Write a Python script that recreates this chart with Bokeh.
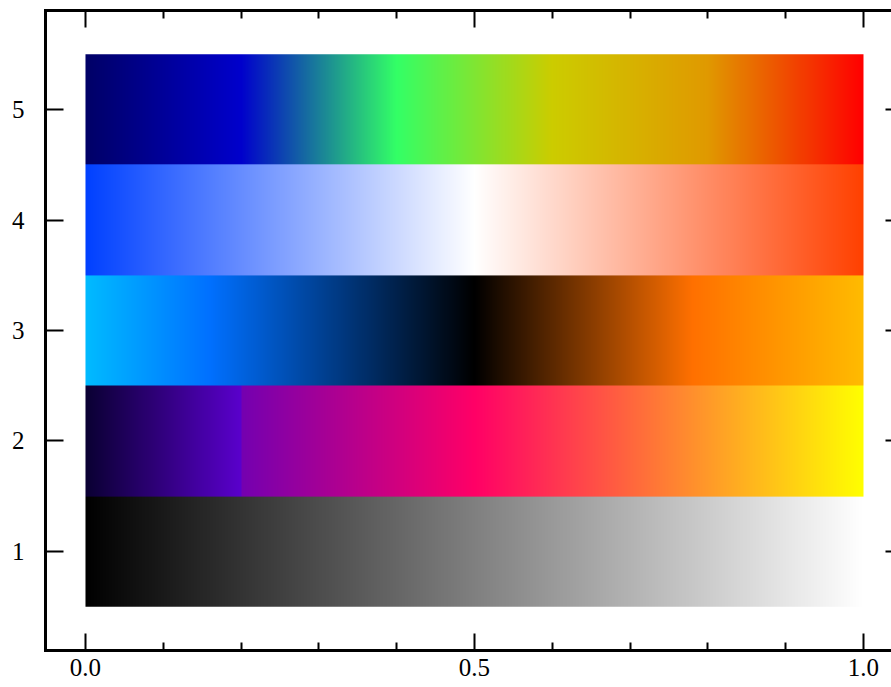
import numpy as np
from bokeh.plotting import figure
from bokeh.models import Range1d, LinearAxis, FixedTicker, NumeralTickFormatter
from bokeh.embed import file_html
from bokeh.resources import INLINE

# ---- data: colour-map stops for each row (row index = y value) ----
rows = [1, 2, 3, 4, 5]

row1_pos = [0.0, 1.0]
row1_colors = ["#000000", "#ffffff"]

row2_pos = [0.0, 0.2, 0.2, 0.5, 1.0]
row2_colors = ["#0a0033", "#5a00cc", "#7400b0", "#ff0066", "#ffff00"]

row3_pos = [0.0, 0.16, 0.5, 0.78, 1.0]
row3_colors = ["#00bbff", "#0070ff", "#000000", "#ff7000", "#ffbb00"]

row4_pos = [0.0, 0.5, 1.0]
row4_colors = ["#0040ff", "#ffffff", "#ff4000"]

row5_pos = [0.0, 0.2, 0.4, 0.6, 0.8, 1.0]
row5_colors = ["#000066", "#0000cc", "#33ff66", "#cccc00", "#e09900", "#ff0000"]

x_ticks = [0.0, 0.5, 1.0]
x_minor_ticks = [0.1, 0.2, 0.3, 0.4, 0.6, 0.7, 0.8, 0.9]
y_ticks = [1, 2, 3, 4, 5]

stops = [(row1_pos, row1_colors), (row2_pos, row2_colors), (row3_pos, row3_colors),
         (row4_pos, row4_colors), (row5_pos, row5_colors)]

N = 778
xs = (np.arange(N) + 0.5) / N


def hex_rgb(h):
    h = h.lstrip("#")
    return [int(h[i:i + 2], 16) for i in (0, 2, 4)]


img = np.zeros((len(rows), N), dtype=np.uint32)
view = img.view(dtype=np.uint8).reshape((len(rows), N, 4))
for r, (pos, cols) in enumerate(stops):
    rgb = np.array([hex_rgb(c) for c in cols], dtype=float)
    for ch in range(3):
        view[r, :, ch] = np.clip(np.round(np.interp(xs, pos, rgb[:, ch])), 0, 255).astype(np.uint8)
    view[r, :, 3] = 255

p = figure(width=891, height=687,
           x_range=Range1d(-0.0514, 1.036), y_range=Range1d(0.104, 5.896),
           output_backend="svg", toolbar_location=None,
           x_axis_location=None, y_axis_location=None,
           min_border_left=45, min_border_right=0, min_border_top=10, min_border_bottom=37)
p.outline_line_color = None
p.grid.visible = False
p.background_fill_color = "white"
p.border_fill_color = "white"

p.image_rgba(image=[img], x=0, y=min(rows) - 0.5, dw=1, dh=len(rows))

FONT = "Liberation Serif"


def style(ax, tick_in, minor_in=0):
    ax.axis_line_width = 3
    ax.axis_line_color = "black"
    ax.axis_line_cap = "square"
    ax.major_tick_line_width = 2
    ax.minor_tick_line_width = 2
    ax.major_tick_out = 0
    ax.minor_tick_out = 0
    ax.major_tick_in = tick_in
    ax.minor_tick_in = minor_in
    ax.major_label_text_font = FONT
    ax.major_label_text_font_size = "25px"
    ax.major_label_text_color = "black"


def hide_labels(ax):
    ax.major_label_text_color = None
    ax.major_label_text_font_size = "1px"
    ax.major_label_standoff = 0


xt = FixedTicker(ticks=x_ticks, minor_ticks=x_minor_ticks)
yt = FixedTicker(ticks=y_ticks, minor_ticks=[])

bottom = LinearAxis(ticker=xt, formatter=NumeralTickFormatter(format="0.0"))
style(bottom, 17, 8)
bottom.major_label_standoff = 8
p.add_layout(bottom, "below")

top = LinearAxis(ticker=xt)
style(top, 17, 8)
hide_labels(top)
p.add_layout(top, "above")

left = LinearAxis(ticker=yt)
style(left, 18)
left.major_label_standoff = 21
p.add_layout(left, "left")

right = LinearAxis(ticker=yt)
style(right, 6)
right.axis_line_color = None
hide_labels(right)
p.add_layout(right, "right")

open("out.html", "w").write(file_html(p, INLINE))
